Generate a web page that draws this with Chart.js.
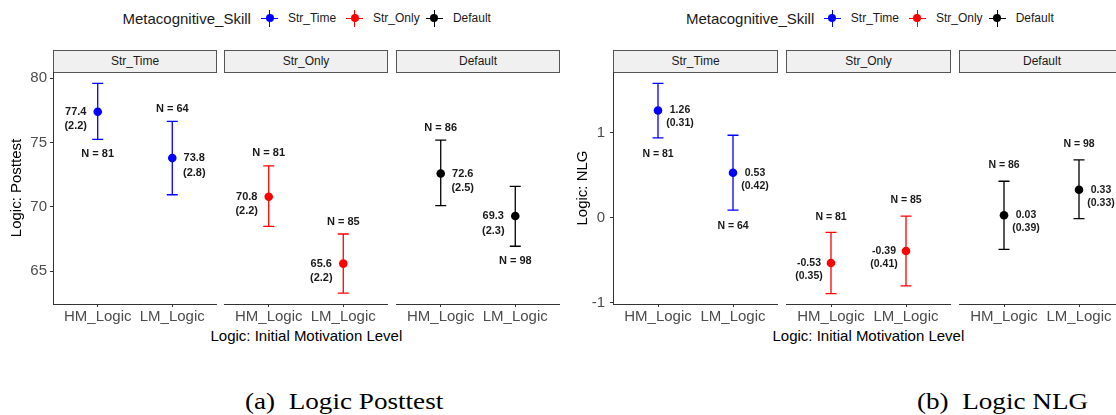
<!DOCTYPE html>
<html>
<head>
<meta charset="utf-8">
<script src="https://cdn.jsdelivr.net/npm/chart.js@4.4.1/dist/chart.umd.min.js"></script>
<style>
  html, body { margin: 0; padding: 0; background: #fff; overflow: hidden; }
  body { width: 1116px; height: 415px; position: relative; font-family: "Liberation Sans", Arial, sans-serif; }
  canvas, .strip, .txt, .mk, .cap { position: absolute; }
  .strip { top: 50px; height: 23px; box-sizing: border-box; background: #f0f0f0; border: 1px solid #555;
           font-size: 12px; color: #1a1a1a; text-align: center; line-height: 21px; }
  .txt { white-space: nowrap; line-height: 1; color: #1a1a1a; }
  .mk { width: 17px; height: 17px; }
  .mk i { position: absolute; display: block; }
  .cap { font-family: "Liberation Serif", "Times New Roman", serif; font-size: 23px; white-space: pre;
         line-height: 1; color: #000; transform-origin: left center; transform: scaleX(1.18); }
</style>
</head>
<body>
<script>
// facets and x categories
const facets = ['Str_Time', 'Str_Only', 'Default'];
const levels = ['HM_Logic', 'LM_Logic'];
const facetColors = ['#0000ff', '#ff0000', '#000000'];

// (a) Logic Posttest: mean, SE label, error bar ends, group size
const postMean = [[77.4, 73.8], [70.8, 65.6], [72.6, 69.3]];
const postSE = [[2.2, 2.8], [2.2, 2.2], [2.5, 2.3]];
const postLow = [[75.25, 70.95], [68.5, 63.3], [70.1, 66.95]];
const postHigh = [[79.6, 76.65], [73.2, 67.9], [75.2, 71.6]];
const postN = [[81, 64], [81, 85], [86, 98]];
const postTicks = [65, 70, 75, 80];

// (b) Logic NLG
const nlgMean = [[1.26, 0.53], [-0.53, -0.39], [0.03, 0.33]];
const nlgSE = [[0.31, 0.42], [0.35, 0.41], [0.39, 0.33]];
const nlgLow = [[0.94, 0.09], [-0.89, -0.80], [-0.37, -0.01]];
const nlgHigh = [[1.58, 0.97], [-0.17, 0.02], [0.43, 0.68]];
const nlgN = [[81, 64], [81, 85], [86, 98]];
const nlgTicks = [-1, 0, 1];

const FONT = '"Liberation Sans", Arial, sans-serif';

const panels = [
  { mean: postMean, se: postSE, low: postLow, high: postHigh, n: postN, ticks: postTicks,
    yMin: 62.46, yMax: 80.49, digits: 1, yTitle: 'Logic: Posttest', xTitle: 'Logic: Initial Motivation Level',
    lefts: [53, 224, 396], width: 164, titlePad: 8, tickPad: 3, labSize: 11, seGap: 14.5, nAbove: 12.5, nBelow: 14.5,
    side: [['L', 'R'], ['L', 'L'], ['R', 'L']], nPos: [['B', 'A'], ['A', 'A'], ['A', 'B']],
    legend: { y: 18, title: 122.5, marks: [269.6, 354.6, 434.3], labels: [287.9, 373, 452.9] },
    caption: '(a)  Logic Posttest', capX: 245 },
  { mean: nlgMean, se: nlgSE, low: nlgLow, high: nlgHigh, n: nlgN, ticks: nlgTicks,
    yMin: -1.012, yMax: 1.713, digits: 2, yTitle: 'Logic: NLG', xTitle: 'Logic: Initial Motivation Level',
    lefts: [613, 786, 959], width: 165, titlePad: 14, tickPad: 5, labSize: 10.5, seGap: 13, nAbove: 15.7, nBelow: 15.8,
    side: [['R', 'R'], ['L', 'L'], ['R', 'R']], nPos: [['B', 'B'], ['A', 'A'], ['A', 'A']],
    legend: { y: 18, title: 685.9, marks: [832, 917.4, 997.2], labels: [850.8, 935.9, 1015.7] },
    caption: '(b)  Logic NLG', capX: 917 }
];

const PLOT_TOP = 72, PLOT_H = 232, XAXIS_H = 30, YAXIS_W = 53;

function addText(text, left, cy, size, extra) {
  const d = document.createElement('div');
  d.className = 'txt';
  d.textContent = text;
  d.style.fontSize = size + 'px';
  d.style.left = left + 'px';
  d.style.top = (cy - size / 2) + 'px';
  Object.assign(d.style, extra || {});
  document.body.appendChild(d);
  return d;
}

function addMarker(cx, cy, color) {
  const m = document.createElement('div');
  m.className = 'mk';
  m.style.left = (cx - 8.5) + 'px';
  m.style.top = (cy - 8.5) + 'px';
  m.innerHTML =
    `<i style="left:0;top:8px;width:17px;height:1.3px;background:${color}"></i>` +
    `<i style="left:8px;top:0;width:1.3px;height:17px;background:${color}"></i>` +
    `<i style="left:4.6px;top:4.6px;width:8px;height:8px;border-radius:50%;background:${color}"></i>`;
  document.body.appendChild(m);
}

function marksPlugin(p, f) {
  const color = facetColors[f];
  return {
    id: 'marks' + f,
    beforeDatasetsDraw(chart) {
      const { ctx, scales: { x, y } } = chart;
      ctx.save();
      ctx.strokeStyle = color;
      ctx.lineWidth = 1.3;
      p.low[f].forEach((lo, i) => {
        const px = x.getPixelForValue(i + 1);
        const y0 = y.getPixelForValue(lo), y1 = y.getPixelForValue(p.high[f][i]);
        ctx.beginPath();
        ctx.moveTo(px, y0); ctx.lineTo(px, y1);
        ctx.moveTo(px - 5.5, y0); ctx.lineTo(px + 5.5, y0);
        ctx.moveTo(px - 5.5, y1); ctx.lineTo(px + 5.5, y1);
        ctx.stroke();
      });
      ctx.restore();
    },
    afterDatasetsDraw(chart) {
      const { ctx, scales: { x, y } } = chart;
      ctx.save();
      ctx.font = `bold ${p.labSize}px ${FONT}`;
      ctx.fillStyle = '#1a1a1a';
      ctx.textAlign = 'center';
      ctx.textBaseline = 'middle';
      p.mean[f].forEach((m, i) => {
        const px = x.getPixelForValue(i + 1);
        const py = y.getPixelForValue(m);
        const tx = px + (p.side[f][i] === 'L' ? -22 : 22);
        ctx.fillText(m.toFixed(p.digits), tx, py);
        ctx.fillText('(' + p.se[f][i].toFixed(p.digits) + ')', tx, py + p.seGap);
        const ny = p.nPos[f][i] === 'A'
          ? y.getPixelForValue(p.high[f][i]) - p.nAbove
          : y.getPixelForValue(p.low[f][i]) + p.nBelow;
        ctx.fillText('N = ' + p.n[f][i], px, ny);
      });
      ctx.restore();
    }
  };
}

panels.forEach(p => {
  // legend
  addText('Metacognitive_Skill', p.legend.title, p.legend.y, 15);
  facets.forEach((name, f) => {
    addMarker(p.legend.marks[f], p.legend.y, facetColors[f]);
    addText(name, p.legend.labels[f], p.legend.y, 12);
  });

  // x axis title, centred under the three facets
  const xt = addText(p.xTitle, 0, 335, 15, { color: '#000' });
  const mid = (p.lefts[0] + p.lefts[2] + p.width) / 2;
  xt.style.left = (mid - xt.offsetWidth / 2) + 'px';

  // caption
  const cap = document.createElement('div');
  cap.className = 'cap';
  cap.textContent = p.caption;
  cap.style.left = p.capX + 'px';
  cap.style.top = (401 - 11.5) + 'px';
  document.body.appendChild(cap);

  facets.forEach((name, f) => {
    const strip = document.createElement('div');
    strip.className = 'strip';
    strip.textContent = name;
    strip.style.left = p.lefts[f] + 'px';
    strip.style.width = p.width + 'px';
    if (p.lefts[f] + p.width > 1116) strip.style.borderRight = 'none';
    document.body.appendChild(strip);

    const first = f === 0;
    const cv = document.createElement('canvas');
    const w = p.width + (first ? YAXIS_W : 0);
    cv.width = w;
    cv.height = PLOT_H + XAXIS_H;
    cv.style.left = (p.lefts[f] - (first ? YAXIS_W : 0)) + 'px';
    cv.style.top = PLOT_TOP + 'px';
    document.body.appendChild(cv);

    new Chart(cv.getContext('2d'), {
      type: 'scatter',
      data: {
        datasets: [{
          data: p.mean[f].map((m, i) => ({ x: i + 1, y: m })),
          backgroundColor: facetColors[f],
          borderColor: facetColors[f],
          pointRadius: 4.3,
          pointHoverRadius: 4.3,
          borderWidth: 0,
          clip: false
        }]
      },
      options: {
        responsive: false,
        animation: false,
        devicePixelRatio: 1,
        layout: { padding: 0, autoPadding: false },
        events: [],
        plugins: { legend: { display: false }, tooltip: { enabled: false } },
        scales: {
          x: {
            type: 'linear', min: 0.4, max: 2.6,
            afterBuildTicks: s => { s.ticks = levels.map((l, i) => ({ value: i + 1 })); },
            afterFit: s => { s.height = XAXIS_H; s.paddingLeft = 0; s.paddingRight = 0; },
            ticks: {
              callback: v => levels[v - 1],
              maxRotation: 0, autoSkip: false, padding: 1,
              color: '#4d4d4d', font: { family: FONT, size: 15 }
            },
            grid: { display: true, drawOnChartArea: false, drawTicks: true, tickLength: 3, color: '#333' },
            border: { display: true, color: '#333', width: 1 }
          },
          y: {
            type: 'linear', min: p.yMin, max: p.yMax, display: first,
            afterBuildTicks: s => { s.ticks = p.ticks.map(v => ({ value: v })); },
            afterFit: s => { s.width = first ? YAXIS_W : 0; s.paddingTop = 0; s.paddingBottom = 0; },
            ticks: { padding: p.tickPad, color: '#4d4d4d', font: { family: FONT, size: 15 } },
            grid: { display: true, drawOnChartArea: false, drawTicks: true, tickLength: 3, color: '#333' },
            border: { display: true, color: '#333', width: 1 },
            title: { display: true, text: p.yTitle, color: '#000', font: { family: FONT, size: 15 },
                     padding: { top: p.titlePad, bottom: 0 } }
          }
        }
      },
      plugins: [marksPlugin(p, f)]
    });
  });
});
</script>
</body>
</html>
